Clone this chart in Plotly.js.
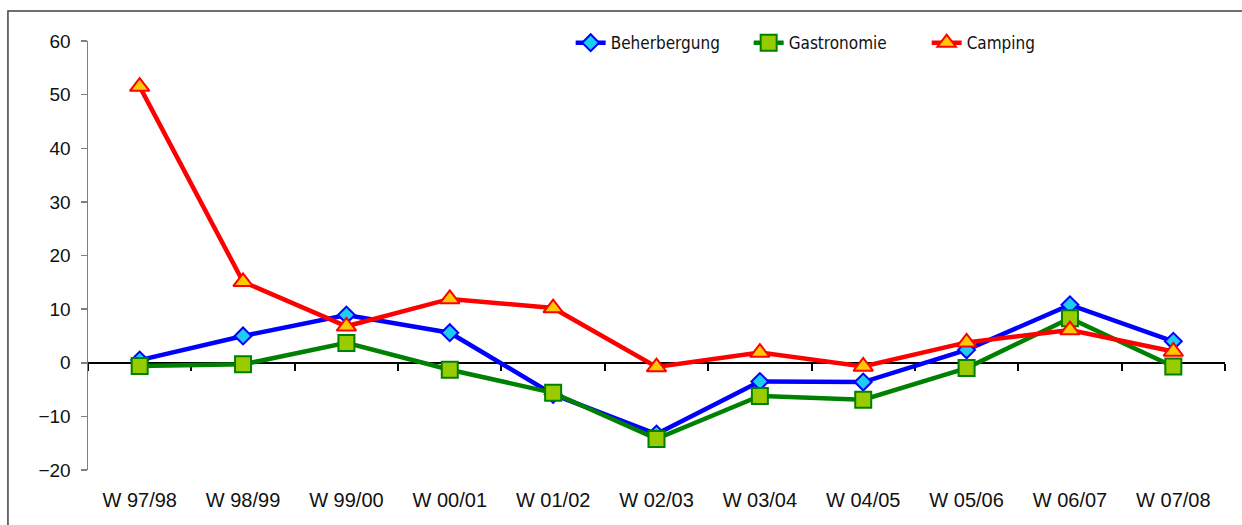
<!DOCTYPE html>
<html>
<head>
<meta charset="utf-8">
<script src="https://cdn.plot.ly/plotly-3.0.1.min.js"></script>
<style>
  html, body { margin: 0; padding: 0; background: #fff; }
  #chart { width: 1242px; height: 525px; }
</style>
</head>
<body>
<div id="chart"></div>
<script>
const seasons = ["W 97/98", "W 98/99", "W 99/00", "W 00/01", "W 01/02", "W 02/03",
    "W 03/04", "W 04/05", "W 05/06", "W 06/07", "W 07/08"];
const beherbergung = [0.5, 5.0, 8.9, 5.6, -5.9, -13.3, -3.5, -3.6, 2.4, 10.8, 4.0];
const gastronomie = [-0.6, -0.3, 3.7, -1.3, -5.6, -14.2, -6.2, -6.9, -1.0, 8.3, -0.7];
const camping = [51.5, 15.1, 6.8, 11.9, 10.2, -0.8, 1.9, -0.7, 3.8, 6.1, 2.1];
const yTicks = [-20, -10, 0, 10, 20, 30, 40, 50, 60];

const series = [
    { name: "Beherbergung", y: beherbergung, line: "#0000ff", fill: "#1ecbf2", symbol: "diamond", size: 13 },
    { name: "Gastronomie", y: gastronomie, line: "#008000", fill: "#99cc00", symbol: "square", size: 16 },
    { name: "Camping", y: camping, line: "#ff0000", fill: "#ffc800", symbol: "triangle-up", size: 17 }
];

const traces = series.map(s => ({
    x: seasons,
    y: s.y,
    name: s.name,
    type: "scatter",
    mode: "lines+markers",
    line: { color: s.line, width: 4.5 },
    marker: { symbol: s.symbol, size: s.size, color: s.fill, line: { color: s.line, width: 2 } },
    hoverinfo: "x+y+name"
}));

// carries the category ticks on the zero line
traces.push({
    x: seasons,
    y: seasons.map(() => null),
    xaxis: "x2",
    type: "scatter",
    mode: "lines",
    showlegend: false,
    hoverinfo: "skip"
});

const layout = {
    width: 1242,
    height: 525,
    margin: { l: 88, r: 17, t: 41, b: 55 },
    paper_bgcolor: "#ffffff",
    plot_bgcolor: "#ffffff",
    font: { family: "Liberation Sans, Arial, sans-serif", size: 19, color: "#111111" },
    showlegend: true,
    legend: {
        orientation: "h",
        x: 0.4245, xanchor: "left",
        y: 0.995, yanchor: "middle",
        entrywidth: 133,
        bgcolor: "rgba(0,0,0,0)",
        font: { family: "DejaVu Sans Condensed, Liberation Sans Narrow, sans-serif", size: 17, color: "#111111" },
        itemclick: false
    },
    xaxis: {
        type: "category",
        range: [-0.5, 10.5],
        showline: false,
        showgrid: false,
        zeroline: false,
        ticks: "",
        ticklabelstandoff: 16,
        tickfont: { size: 20 }
    },
    xaxis2: {
        type: "category",
        overlaying: "x",
        anchor: "free",
        position: 0.25,
        range: [-0.5, 10.5],
        showline: true,
        linecolor: "#000000",
        linewidth: 2,
        ticks: "outside",
        tickson: "boundaries",
        ticklen: 7,
        tickwidth: 2,
        tickcolor: "#000000",
        showticklabels: false,
        showgrid: false,
        zeroline: false,
        layer: "below traces"
    },
    yaxis: {
        range: [-20, 60],
        tickvals: yTicks,
        showline: true,
        linecolor: "#808080",
        linewidth: 1.5,
        ticks: "outside",
        ticklen: 6,
        tickwidth: 1.5,
        tickcolor: "#808080",
        ticklabelstandoff: 6,
        showgrid: false,
        zeroline: false,
        tickfont: { size: 19 }
    },
    shapes: [{
        type: "rect",
        xref: "paper", yref: "paper",
        x0: -0.0704, x1: 1.2,
        y0: -0.3, y1: 1.0699,
        line: { color: "#404040", width: 1.5 },
        layer: "below"
    }]
};

Plotly.newPlot("chart", traces, layout, { displayModeBar: false, staticPlot: true });
</script>
</body>
</html>
